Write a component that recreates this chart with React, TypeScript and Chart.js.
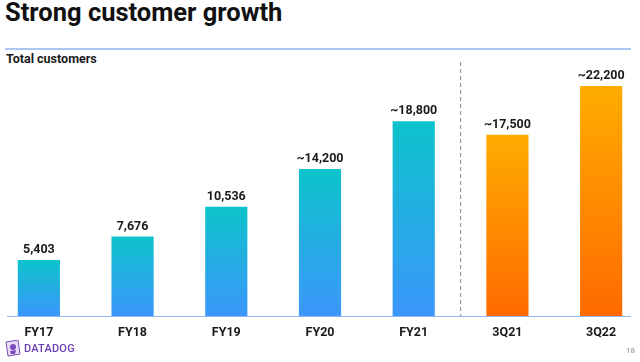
import React, { useEffect, useRef } from "react";
import { Chart, registerables } from "chart.js";

Chart.register(...registerables);

const categories = ["FY17", "FY18", "FY19", "FY20", "FY21", "3Q21", "3Q22"];
const customerValues = [5403, 7676, 10536, 14200, 18800, 17500, 22200];
const valueLabels = ["5,403", "7,676", "10,536", "~14,200", "~18,800", "~17,500", "~22,200"];
const isQuarter = [false, false, false, false, false, true, true];

const FONT = "Roboto, 'Noto Sans', sans-serif";

export default function App() {
  const canvasRef = useRef<HTMLCanvasElement | null>(null);

  useEffect(() => {
    const canvas = canvasRef.current;
    if (!canvas) return;

    const gradientFor = (context: any) => {
      const chart = context.chart;
      const { ctx, chartArea, scales } = chart;
      const i = context.dataIndex;
      const q = isQuarter[i];
      if (!chartArea || !scales || !scales.y) return q ? "#FF9000" : "#20B0E0";
      const top = scales.y.getPixelForValue(customerValues[i]);
      const bottom = scales.y.getPixelForValue(0);
      const g = ctx.createLinearGradient(0, top, 0, bottom);
      if (q) {
        g.addColorStop(0, "#FFAC00");
        g.addColorStop(1, "#FF6A00");
      } else {
        g.addColorStop(0, "#0DC3CB");
        g.addColorStop(1, "#3B97FB");
      }
      return g;
    };

    const overlayPlugin = {
      id: "overlay",
      afterDatasetsDraw(chart: any) {
        const { ctx, chartArea, scales } = chart;
        const xs = scales.x;
        const ys = scales.y;
        ctx.save();
        const sx = (xs.getPixelForTick(4) + xs.getPixelForTick(5)) / 2;
        ctx.strokeStyle = "#9A9A9A";
        ctx.lineWidth = 1.2;
        ctx.setLineDash([4, 3]);
        ctx.beginPath();
        ctx.moveTo(sx, chartArea.top + 5);
        ctx.lineTo(sx, chartArea.bottom);
        ctx.stroke();
        ctx.setLineDash([]);
        ctx.fillStyle = "#1a1a1a";
        ctx.font = `bold 12.5px ${FONT}`;
        ctx.textAlign = "center";
        ctx.textBaseline = "middle";
        customerValues.forEach((v, i) => {
          const x = xs.getPixelForTick(i);
          const y = ys.getPixelForValue(v) - 10;
          ctx.fillText(valueLabels[i], x, y);
        });
        ctx.restore();
      },
    };

    const chart = new Chart(canvas, {
      type: "bar",
      data: {
        labels: categories,
        datasets: [
          {
            data: customerValues,
            backgroundColor: gradientFor,
            borderWidth: 0,
            categoryPercentage: 1,
            barPercentage: 0.45,
          },
        ],
      },
      options: {
        animation: false,
        responsive: false,
        maintainAspectRatio: false,
        layout: { padding: { top: 57, left: 0, right: 0, bottom: 0 } },
        plugins: {
          legend: { display: false },
          tooltip: { enabled: false },
        },
        scales: {
          x: {
            offset: true,
            grid: { display: false, drawTicks: false },
            border: { display: false },
            ticks: {
              color: "#1a1a1a",
              font: { family: FONT, size: 12.5, weight: "bold" },
              padding: 9,
              maxRotation: 0,
            },
            afterFit: (scale: any) => {
              scale.height = 46;
            },
          },
          y: {
            display: false,
            min: 0,
            max: 25000,
          },
        },
      },
      plugins: [overlayPlugin],
    });

    return () => chart.destroy();
  }, []);

  return (
    <div
      style={{
        position: "absolute",
        left: 0,
        top: 0,
        width: 640,
        height: 362,
        overflow: "hidden",
        background: "#ffffff",
        fontFamily: FONT,
      }}
    >
      <div
        style={{
          position: "absolute",
          left: 5,
          top: -4,
          fontSize: 25.5,
          fontWeight: 700,
          color: "#111111",
          whiteSpace: "nowrap",
          lineHeight: "32px",
        }}
      >
        Strong customer growth
      </div>
      <div
        style={{
          position: "absolute",
          left: 5,
          top: 48,
          width: 626,
          height: 1.5,
          background: "#A9C9F4",
        }}
      />
      <div
        style={{
          position: "absolute",
          left: 6,
          top: 51,
          fontSize: 12.5,
          fontWeight: 700,
          color: "#1a1a1a",
          whiteSpace: "nowrap",
          lineHeight: "16px",
        }}
      >
        Total customers
      </div>
      <canvas
        ref={canvasRef}
        width={656}
        height={362}
        style={{ position: "absolute", left: -8, top: 0, width: 656, height: 362 }}
      />
      <div
        style={{
          position: "absolute",
          left: 7,
          top: 315.5,
          width: 624,
          height: 1.5,
          background: "#8DBCF5",
        }}
      />
      <div
        style={{
          position: "absolute",
          left: 5,
          top: 340,
          display: "flex",
          alignItems: "center",
          gap: 3,
        }}
      >
        <svg width="16" height="17" viewBox="0 0 16 17">
          <path d="M1 2 L13 0 L15 14 L3 16 Z" fill="#E7DDF4" stroke="#7B4BC0" strokeWidth="1" />
          <circle cx="8" cy="7" r="3" fill="#7B4BC0" />
          <path d="M5 11 L11 10 L10 14 L6 14 Z" fill="#7B4BC0" />
        </svg>
        <span
          style={{
            fontSize: 11,
            fontWeight: 500,
            color: "#6B3DB3",
            letterSpacing: 0.2,
            lineHeight: "14px",
          }}
        >
          DATADOG
        </span>
      </div>
      <div
        style={{
          position: "absolute",
          left: 626,
          top: 346,
          fontSize: 8,
          color: "#8a8a8a",
          lineHeight: "10px",
        }}
      >
        18
      </div>
    </div>
  );
}
